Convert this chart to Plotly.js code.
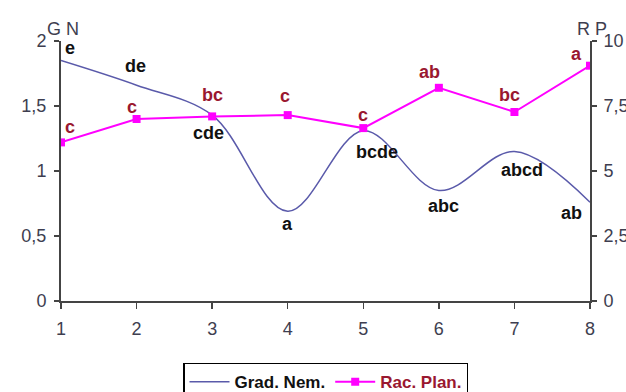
<!DOCTYPE html>
<html><head><meta charset="utf-8">
<script src="https://cdn.plot.ly/plotly-3.0.1.min.js"></script>
<style>body{margin:0;background:#fff}#c{width:626px;height:392px}</style>
</head><body><div id="c"></div>
<script>
const xs = [1,2,3,4,5,6,7,8];
const gradNem = [1.85,1.66,1.43,0.69,1.31,0.85,1.15,0.76];
const racPlan = [6.1,7.0,7.1,7.15,6.65,8.2,7.27,9.05];
const gnLabels = ['e','de','cde','a','bcde','abc','abcd','ab'];
const rpLabels = ['c','c','bc','c','c','ab','bc','a'];
const gnShiftX = [9,-1,-4,0,14,5,8,-19];
const gnShiftY = [13,19,-18,-13,-21,-15,-18,-11];
const rpShiftX = [9,-5,0,-3,0,-9,-5,-14];
const rpShiftY = [15,12,21,19,13,16,17,12];

const FAM = 'Liberation Sans, Arial, sans-serif';
const lblFont = {family:FAM, size:18};
const ann = [];
xs.forEach((x,i)=>{
  ann.push({x:x, y:gradNem[i], xref:'x', yref:'y', text:'<b>'+gnLabels[i]+'</b>', showarrow:false,
    xanchor:'center', yanchor:'middle',
    xshift:gnShiftX[i], yshift:gnShiftY[i], font:Object.assign({color:'#111'},lblFont)});
  ann.push({x:x, y:racPlan[i], xref:'x', yref:'y2', text:'<b>'+rpLabels[i]+'</b>', showarrow:false,
    xanchor:'center', yanchor:'middle',
    xshift:rpShiftX[i], yshift:rpShiftY[i], font:Object.assign({color:'#9a1830'},lblFont)});
});
ann.push({x:0, y:1, xref:'paper', yref:'paper', text:'G N', showarrow:false, xanchor:'center', yanchor:'middle',
  xshift:2, yshift:12, font:{family:FAM, size:18, color:'#3e3e50'}});
ann.push({x:1, y:1, xref:'paper', yref:'paper', text:'R P', showarrow:false, xanchor:'center', yanchor:'middle',
  xshift:2, yshift:12, font:{family:FAM, size:18, color:'#3e3e50'}});

const tickFont = {family:FAM, size:18, color:'#3e3e50'};
const data = [
  {x:xs, y:gradNem, name:'<b>Grad. Nem.</b>', type:'scatter', mode:'lines',
   line:{color:'#5a5aaa', width:1.5, shape:'spline', smoothing:1}, yaxis:'y'},
  {x:xs, y:racPlan, name:'<b><span style="color:#9a1830">Rac. Plan.</span></b>', type:'scatter', mode:'lines+markers',
   line:{color:'#ff00ff', width:2}, marker:{symbol:'square', size:8, color:'#ff00ff'}, yaxis:'y2'}
];
const layout = {
  width:626, height:392,
  margin:{l:61, r:36, t:41, b:91},
  paper_bgcolor:'#fff', plot_bgcolor:'#fff',
  separators:',.',
  showlegend:true,
  legend:{orientation:'h', x:0.5, xanchor:'center', xref:'paper', y:0.075, yref:'container', yanchor:'top',
    bordercolor:'#000', borderwidth:1.5, font:{family:FAM, size:17, color:'#111'},
    itemwidth:40, tracegroupgap:0},
  xaxis:{range:[1,8], tickvals:xs, showgrid:false, zeroline:false, showline:true, linecolor:'#444', linewidth:2,
    ticks:'outside', ticklen:6, tickcolor:'#444', tickwidth:1.5, tickfont:tickFont, automargin:false,
    ticklabelstandoff:4},
  yaxis:{range:[0,2], dtick:0.5, showgrid:false, zeroline:false, showline:true, linecolor:'#444', linewidth:2,
    ticks:'outside', ticklen:5, tickcolor:'#444', tickwidth:1.5, tickfont:tickFont, automargin:false,
    ticklabelstandoff:4},
  yaxis2:{range:[0,10], dtick:2.5, overlaying:'y', side:'right', showgrid:false, zeroline:false, showline:true,
    linecolor:'#444', linewidth:2, ticks:'outside', ticklen:5, tickcolor:'#444', tickwidth:1.5, tickfont:tickFont,
    automargin:false, ticklabelstandoff:3},
  annotations:ann
};
Plotly.newPlot('c', data, layout, {displayModeBar:false, staticPlot:true});
</script></body></html>
